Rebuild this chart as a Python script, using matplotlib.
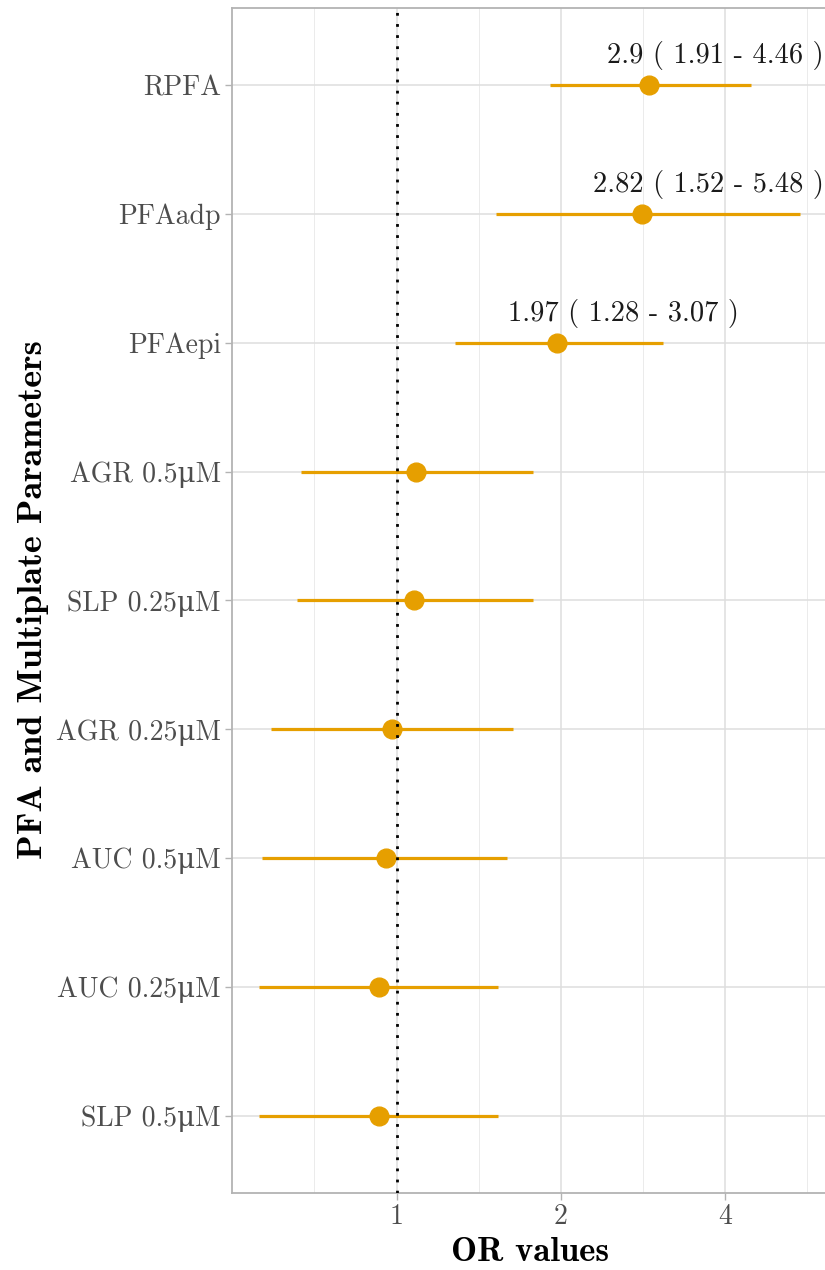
import numpy as np
import matplotlib
matplotlib.use("Agg")
import matplotlib.pyplot as plt
from matplotlib.ticker import FixedLocator, NullFormatter

# odds ratios with 95% CI, top row first
# (greek mu used since cmr10 maps the micro sign to a wrong glyph)
params = ["RPFA", "PFAadp", "PFAepi", "AGR 0.5\u03bcM", "SLP 0.25\u03bcM",
          "AGR 0.25\u03bcM", "AUC 0.5\u03bcM", "AUC 0.25\u03bcM", "SLP 0.5\u03bcM"]
or_vals = [2.9, 2.82, 1.97, 1.087, 1.075, 0.983, 0.958, 0.927, 0.927]
ci_low = [1.91, 1.52, 1.28, 0.668, 0.658, 0.589, 0.567, 0.56, 0.56]
ci_high = [4.46, 5.48, 3.07, 1.777, 1.777, 1.633, 1.592, 1.532, 1.532]
labels = ["2.9 ( 1.91 - 4.46 )", "2.82 ( 1.52 - 5.48 )", "1.97 ( 1.28 - 3.07 )",
          "", "", "", "", "", ""]
x_ticks = [1, 2, 4]

plt.rcParams['font.family'] = ['cmr10', 'DejaVu Serif']
plt.rcParams['axes.unicode_minus'] = False

col = "#E69F00"
fig = plt.figure(figsize=(8.25, 12.7), dpi=100)
ax = fig.add_axes([232/825, 1 - 1193/1270, (827 - 232)/825, (1193 - 8)/1270])

y = np.arange(len(params))
ax.hlines(y, ci_low, ci_high, color=col, lw=2.3, zorder=3)
ax.plot(or_vals, y, 'o', color=col, ms=13.5, mec=col, zorder=4)
ax.axvline(1, color='black', lw=2, ls=(0, (1, 3)), zorder=5)

for yi, o, lab in zip(y, or_vals, labels):
    if lab:
        ax.text(o * 1.32, yi - 0.17, lab, ha='center', va='baseline',
                fontsize=20.5, color='#1a1a1a')

ax.set_xscale('log', base=2)
lo = np.log2(min(ci_low)); hi = np.log2(max(ci_high))
pad = (hi - lo) * 0.05
ax.set_xlim(2 ** (lo - pad), 2 ** (hi + pad))
ax.set_ylim(len(params) - 0.4, -0.6)

ax.xaxis.set_major_locator(FixedLocator(x_ticks))
ax.set_xticklabels([str(t) for t in x_ticks])
ax.xaxis.set_minor_locator(FixedLocator([2 ** -0.5, 2 ** 0.5, 2 ** 1.5, 2 ** 2.5]))
ax.xaxis.set_minor_formatter(NullFormatter())
ax.set_yticks(y)
ax.set_yticklabels(params)

ax.grid(True, which='major', color='#DEDEDE', lw=1.1, zorder=0)
ax.grid(True, which='minor', axis='x', color='#EBEBEB', lw=0.7, zorder=0)
ax.set_axisbelow(True)
for s in ax.spines.values():
    s.set_color('#B3B3B3')
    s.set_linewidth(1.3)
ax.tick_params(which='major', length=5, width=1, color='#B3B3B3',
               labelsize=20, labelcolor='#4D4D4D', pad=3)
ax.tick_params(which='minor', length=0)

fig.text(530/825, 1 - 1261/1270, "OR values", ha='center', va='baseline',
         fontsize=25, fontfamily=['cmb10', 'DejaVu Serif'], fontweight='bold')
fig.text(33/825, 1 - 600/1270, "PFA and Multiplate Parameters", rotation=90,
         ha='center', va='center', fontsize=26,
         fontfamily=['cmb10', 'DejaVu Serif'], fontweight='bold')

fig.savefig("out.png", dpi=100)
